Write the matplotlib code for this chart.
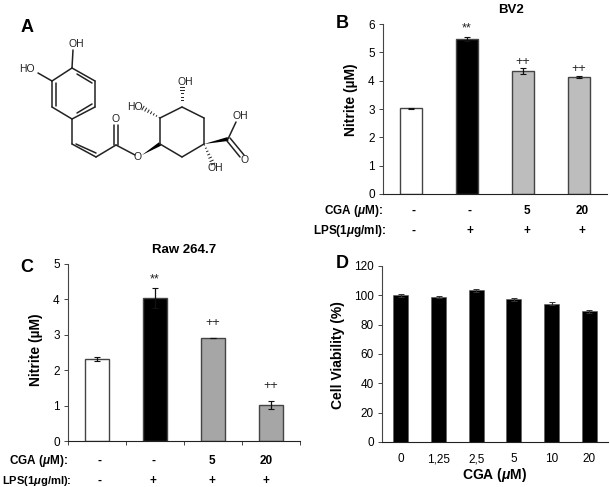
import matplotlib
matplotlib.use('Agg')
import matplotlib.pyplot as plt
import numpy as np

plt.rcParams['font.family'] = ['Liberation Sans', 'DejaVu Sans']
plt.rcParams['mathtext.fontset'] = 'custom'
plt.rcParams['mathtext.it'] = 'Liberation Sans:italic:bold'
plt.rcParams['mathtext.rm'] = 'Liberation Sans:bold'

W, H = 610, 487

# panel B
bv2_vals = [3.02, 5.47, 4.35, 4.13]
bv2_err = [0.03, 0.06, 0.10, 0.03]
bv2_marks = ['', '**', '++', '++']
bv2_cga = ['-', '-', '5', '20']
bv2_lps = ['-', '+', '+', '+']

# panel C
raw_vals = [2.31, 4.03, 2.91, 1.01]
raw_err = [0.05, 0.28, 0.01, 0.11]
raw_marks = ['', '**', '++', '++']
raw_cga = ['-', '-', '5', '20']
raw_lps = ['-', '+', '+', '+']

# panel D
dose_labels = ['0', '1,25', '2,5', '5', '10', '20']
viab_vals = [100, 98.8, 103.3, 97.2, 94.3, 89.2]
viab_err = [0.8, 0.8, 0.7, 0.9, 1.0, 1.1]

# molecule, in pixels of the figure
mol_bonds = [
    ((72, 68), (95, 81)), ((95, 81), (95, 107)), ((95, 107), (72, 119)),
    ((72, 119), (52, 107)), ((52, 107), (52, 81)), ((52, 81), (72, 68)),
    ((72, 68), (73, 50)), ((52, 81), (38, 73)),
    ((72, 119), (72, 144)), ((72, 144), (96, 157)), ((96, 157), (116, 145)),
    ((116, 145), (135, 155)),
    ((160, 144), (160, 118)), ((160, 118), (182, 107)), ((182, 107), (204, 118)),
    ((204, 118), (204, 144)), ((204, 144), (182, 157)), ((182, 157), (160, 144)),
    ((228, 139), (236, 122)),
]
mol_double = [
    ((77, 74), (92, 83)), ((92, 104), (77, 113)), ((56, 106), (56, 83)),
    ((76, 144), (96, 153)),
    ((114, 145), (114, 125)), ((118, 145), (118, 125)),
    ((227, 141), (240, 157)), ((230, 138), (244, 155)),
]
mol_wedges = [((142, 155), (160, 144)), ((204, 144), (228, 139))]
mol_hash = [((160, 118), (143, 108)), ((182, 107), (182, 87)), ((204, 144), (213, 164))]
mol_labels = [
    ('OH', 76, 44), ('HO', 27, 69), ('OH', 185, 82), ('HO', 135, 107),
    ('OH', 240, 116), ('O', 116, 119), ('O', 138, 157), ('O', 245, 160),
    ('OH', 215, 168),
]


def make_axes(left, right, top, bottom):
    return fig.add_axes([left / W, 1 - bottom / H, (right - left) / W, (bottom - top) / H])


def style(ax):
    ax.spines['top'].set_visible(False)
    ax.spines['right'].set_visible(False)
    ax.spines['left'].set_color('#444444')
    ax.spines['bottom'].set_color('#222222')
    ax.tick_params(axis='y', labelsize=8.5, length=3, width=0.7, color='#444444', pad=3)


def nitrite_panel(ax, vals, err, marks, colors, ymax, gaps):
    x = np.arange(len(vals)) + 0.5
    ax.bar(x, vals, width=0.41, color=colors, edgecolor='#444444', linewidth=1.0, zorder=2)
    ax.errorbar(x, vals, yerr=err, fmt='none', ecolor='#111111', elinewidth=0.9, capsize=2.2,
                capthick=0.8, zorder=3)
    for xi, v, e, m, g in zip(x, vals, err, marks, gaps):
        if m:
            ax.text(xi, v + e + g, m, ha='center', va='center', fontsize=9, color='#222222')
    ax.set_xlim(0, len(vals))
    ax.set_ylim(0, ymax)
    ax.set_yticks(range(ymax + 1))
    ax.set_ylabel('Nitrite (µM)', fontsize=10, fontweight='bold')
    style(ax)


def row_labels(x_px, cga, lps, y1, y2, cga_x, lps_x, lps_size=8.5):
    bold = dict(fontweight='bold', va='center')
    over.text(cga_x, y1, r'CGA ($\mathit{\mu}$M):', ha='right', fontsize=8.5, **bold)
    over.text(lps_x, y2, r'LPS(1$\mathit{\mu}$g/ml):', ha='right', fontsize=lps_size, **bold)
    for xp, c, l in zip(x_px, cga, lps):
        over.text(xp, y1, c, ha='center', fontsize=8.5, **bold)
        over.text(xp, y2, l, ha='center', fontsize=8.5, **bold)


fig = plt.figure(figsize=(W / 100, H / 100), dpi=100, facecolor='white')

over = fig.add_axes([0, 0, 1, 1], zorder=10)
over.set_xlim(0, W)
over.set_ylim(H, 0)
over.axis('off')
over.patch.set_alpha(0)

# A
for a, b in mol_bonds + mol_double:
    over.plot([a[0], b[0]], [a[1], b[1]], color='#222222', lw=1.1, solid_capstyle='round')
for a, b in mol_wedges:
    d = np.array([b[1] - a[1], a[0] - b[0]], dtype=float)
    d = d / np.hypot(*d) * 2
    over.fill([a[0], b[0] + d[0], b[0] - d[0]], [a[1], b[1] + d[1], b[1] - d[1]], color='black', lw=0)
for a, b in mol_hash:
    a, b = np.array(a, float), np.array(b, float)
    d = np.array([b[1] - a[1], a[0] - b[0]])
    d = d / np.hypot(*d)
    for t in np.linspace(0.05, 1, 7):
        p = a + (b - a) * t
        over.plot([p[0] - d[0] * 2 * t, p[0] + d[0] * 2 * t], [p[1] - d[1] * 2 * t, p[1] + d[1] * 2 * t],
                  color='#222222', lw=0.7)
for s, xp, yp in mol_labels:
    over.text(xp, yp, s, ha='center', va='center', fontsize=7.5, color='#222222')

for s, xp, yp in [('A', 27, 28), ('B', 342, 23), ('C', 27, 268), ('D', 342, 263)]:
    over.text(xp, yp, s, ha='center', va='center', fontsize=13, fontweight='bold')

# B
ax_b = make_axes(383, 607, 24, 194)
nitrite_panel(ax_b, bv2_vals, bv2_err, bv2_marks, ['white', 'black', '#bdbdbd', '#bdbdbd'], 6,
              [0, 0.32, 0.22, 0.25])
ax_b.set_xticks([])
ax_b.yaxis.set_label_coords(-0.11, 0.553)
over.text(511, 10, 'BV2', ha='center', va='center', fontsize=9.5, fontweight='bold')
row_labels([414, 470, 527, 582], bv2_cga, bv2_lps, 211, 231, 383, 386)

# C
ax_c = make_axes(68, 300, 264, 441)
nitrite_panel(ax_c, raw_vals, raw_err, raw_marks, ['white', 'black', '#a6a6a6', '#a6a6a6'], 5,
              [0, 0.25, 0.4, 0.42])
ax_c.set_xticks(range(5))
ax_c.set_xticklabels([])
ax_c.tick_params(axis='x', length=3, width=0.7, color='#444444')
ax_c.yaxis.set_label_coords(-0.108, 0.514)
over.text(184, 250, 'Raw 264.7', ha='center', va='center', fontsize=9.5, fontweight='bold')
row_labels([99, 153, 212, 266], raw_cga, raw_lps, 461, 481, 68, 72, lps_size=8)

# D
ax_d = make_axes(382, 608, 266, 442)
xd = np.arange(len(viab_vals))
ax_d.bar(xd, viab_vals, width=0.4, color='black', edgecolor='#555555', linewidth=0.4, zorder=2)
ax_d.errorbar(xd, viab_vals, yerr=viab_err, fmt='none', ecolor='#333333', elinewidth=0.8, capsize=2.2,
              capthick=0.7, zorder=3)
ax_d.set_xlim(-0.5, 5.5)
ax_d.set_ylim(0, 120)
ax_d.set_yticks(range(0, 121, 20))
ax_d.set_xticks(xd)
ax_d.set_xticklabels(dose_labels)
ax_d.tick_params(axis='x', labelsize=8.5, length=0, pad=8)
ax_d.set_ylabel('Cell Viability (%)', fontsize=10, fontweight='bold')
style(ax_d)
ax_d.yaxis.set_label_coords(-0.162, 0.494)
over.text(495, 475, r'CGA ($\mathit{\mu}$M)', ha='center', va='center', fontsize=10, fontweight='bold')

fig.savefig('out.png', dpi=100)
